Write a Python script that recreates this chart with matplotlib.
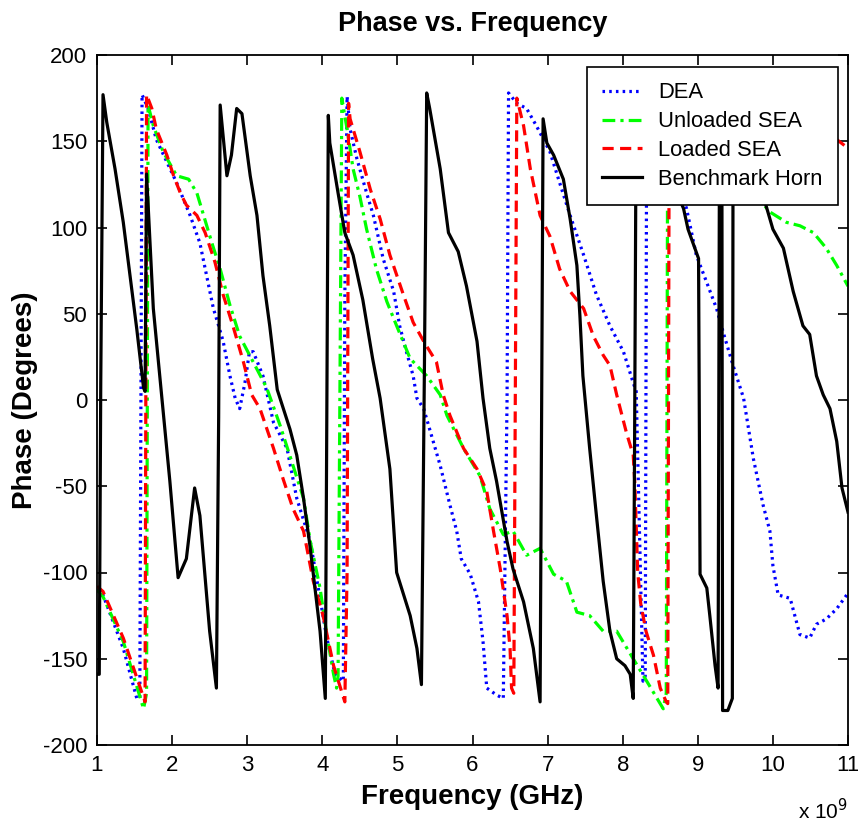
import matplotlib
matplotlib.use("Agg")
import matplotlib.pyplot as plt

FONT = "Liberation Sans"

# ---------------- data (frequency in GHz, phase in degrees) ----------------
dea_f = [1.00, 1.08, 1.35, 1.53, 1.57, 1.60, 1.68, 1.79, 1.93, 2.06, 2.24, 2.37, 2.46, 2.55,
         2.62, 2.68, 2.77, 2.84, 2.90, 2.97, 3.03, 3.08, 3.21, 3.35, 3.53, 3.66, 3.84, 3.97,
         4.06, 4.17, 4.28, 4.30, 4.33, 4.37, 4.46, 4.59, 4.68, 4.81, 4.95, 5.03, 5.12, 5.21,
         5.26, 5.35, 5.43, 5.57, 5.70, 5.79, 5.85, 5.97, 6.08, 6.14, 6.19, 6.32, 6.41, 6.46,
         6.48, 6.59, 6.72, 6.85, 7.03, 7.16, 7.30, 7.48, 7.65, 7.83, 8.01, 8.14, 8.18, 8.27,
         8.30, 8.32, 8.85, 8.98, 9.12, 9.25, 9.34, 9.47, 9.61, 9.74, 9.87, 9.96, 10.00, 10.07,
         10.23, 10.36, 10.49, 10.58, 10.71, 10.85, 11.00]
dea_p = [-110, -113, -144, -173, -173, 177, 169, 151, 138, 126, 107, 91, 72, 53,
         43, 34, 14, 1, -5, 10, 28, 28, 14, -13, -28, -57, -82, -115,
         -138, -159, -163, 60, 176, 157, 140, 120, 107, 82, 63, 43, 28, 14,
         1, -5, -17, -38, -61, -76, -92, -101, -117, -140, -167, -171, -173, 0,
         178, 172, 169, 159, 144, 126, 107, 84, 61, 43, 28, 10, 5, -163,
         -160, 178, 111, 84, 68, 53, 39, 20, 1, -34, -61, -76, -96, -113,
         -115, -136, -138, -130, -127, -121, -112]

unl_f = [1.00, 1.08, 1.35, 1.62, 1.66, 1.68, 1.75, 1.88, 2.06, 2.22, 2.33, 2.42, 2.53, 2.64,
         2.77, 2.90, 3.08, 3.26, 3.44, 3.61, 3.75, 3.84, 3.97, 4.06, 4.15, 4.19, 4.21, 4.26,
         4.33, 4.41, 4.50, 4.59, 4.72, 4.86, 4.99, 5.17, 5.39, 5.57, 5.66, 5.88, 6.10, 6.23,
         6.41, 6.54, 6.72, 6.90, 7.08, 7.25, 7.39, 7.56, 7.74, 7.92, 8.14, 8.32, 8.54, 8.58,
         8.60, 9.96, 10.18, 10.36, 10.54, 10.71, 10.85, 11.00]
unl_p = [-110, -114, -140, -179, -170, 171, 159, 144, 130, 128, 120, 107, 91, 76,
         55, 37, 22, 7, -15, -38, -57, -82, -109, -136, -159, -167, -160, 175,
         157, 134, 118, 99, 76, 57, 43, 24, 14, 3, -9, -28, -44, -63,
         -78, -76, -90, -86, -101, -105, -123, -125, -134, -134, -150, -163, -179, -170,
         178, 109, 103, 101, 97, 88, 78, 66]

lod_f = [1.00, 1.08, 1.35, 1.64, 1.65, 1.66, 1.73, 1.79, 1.93, 2.02, 2.11, 2.19, 2.33, 2.44,
         2.57, 2.68, 2.81, 2.95, 3.06, 3.17, 3.35, 3.48, 3.61, 3.75, 3.88, 4.01, 4.15, 4.30,
         4.33, 4.35, 4.37, 4.50, 4.64, 4.77, 4.90, 5.08, 5.21, 5.35, 5.52, 5.61, 5.70, 5.88,
         6.06, 6.19, 6.28, 6.37, 6.46, 6.50, 6.52, 6.55, 6.59, 6.68, 6.77, 6.90, 7.03, 7.16,
         7.30, 7.48, 7.61, 7.74, 7.83, 7.92, 8.05, 8.14, 8.16, 8.20, 8.24, 8.31, 8.41, 8.50,
         8.58, 8.60, 8.62, 10.85, 11.00]
lod_p = [-108, -111, -138, -175, 0, 177, 169, 157, 142, 130, 120, 113, 107, 97,
         80, 61, 43, 22, 3, -5, -28, -46, -63, -76, -105, -125, -154, -175,
         -100, 172, 163, 144, 122, 105, 84, 61, 45, 34, 22, 3, -9, -28,
         -40, -53, -76, -98, -125, -144, -167, -170, 175, 159, 134, 107, 95, 76,
         63, 53, 37, 26, 20, 3, -19, -32, -47, -100, -118, -134, -148, -167,
         -175, -176, 178, 151, 146]

horn_f = [1.00, 1.03, 1.05, 1.08, 1.13, 1.24, 1.35, 1.44, 1.53, 1.62, 1.64, 1.66, 1.75, 1.84,
          1.97, 2.08, 2.19, 2.30, 2.37, 2.50, 2.59, 2.62, 2.64, 2.73, 2.79, 2.86, 2.93, 3.04,
          3.13, 3.21, 3.30, 3.40, 3.57, 3.66, 3.75, 3.84, 3.97, 4.04, 4.06, 4.08, 4.10, 4.21,
          4.30, 4.41, 4.54, 4.67, 4.77, 4.90, 4.99, 5.17, 5.26, 5.32, 5.36, 5.39, 5.43, 5.57,
          5.68, 5.81, 5.92, 6.06, 6.14, 6.23, 6.32, 6.46, 6.54, 6.68, 6.81, 6.90, 6.92, 6.94,
          6.99, 7.08, 7.21, 7.30, 7.39, 7.43, 7.47, 7.56, 7.65, 7.74, 7.83, 7.92, 8.03, 8.10,
          8.14, 8.16, 8.18, 8.81, 8.87, 9.01, 9.03, 9.12, 9.16, 9.23, 9.27, 9.29, 9.32, 9.33,
          9.40, 9.46, 9.47, 9.92, 10.00, 10.14, 10.27, 10.40, 10.49, 10.58, 10.67, 10.76, 10.85,
          10.92, 11.00]
horn_p = [-159, -159, 10, 177, 161, 134, 103, 72, 41, 7, 5, 131, 53, 12,
          -47, -103, -92, -51, -67, -134, -167, -10, 171, 130, 142, 169, 166, 130,
          107, 72, 43, 6, -17, -32, -57, -86, -134, -173, -10, 165, 149, 120,
          97, 84, 58, 24, 1, -40, -100, -125, -144, -165, 20, 178, 169, 134,
          97, 86, 66, 34, 1, -28, -47, -82, -98, -117, -144, -175, -10, 163,
          149, 142, 128, 105, 78, 49, 14, -28, -67, -105, -134, -150, -154, -159,
          -173, -10, 175, 111, 99, 82, -101, -109, -125, -154, -167, 175, 170, -180,
          -180, -173, 175, 111, 99, 88, 63, 43, 38, 14, 3, -5, -24,
          -51, -65]

labels = ["DEA", "Unloaded SEA", "Loaded SEA", "Benchmark Horn"]
xticks = [1, 2, 3, 4, 5, 6, 7, 8, 9, 10, 11]
yticks = [-200, -150, -100, -50, 0, 50, 100, 150, 200]

# ---------------- figure ----------------
fig = plt.figure(figsize=(8.58, 8.26), dpi=100)
ax = fig.add_axes([97 / 858, (826 - 745) / 826, (848 - 97) / 858, (745 - 55) / 826])

lw = 2.3
ax.plot(dea_f, dea_p, color="#0000ff", lw=lw, linestyle=(0, (0.8, 1.3)), label=labels[0])
ax.plot(unl_f, unl_p, color="#00ff00", lw=lw, linestyle=(0, (4, 1.6, 1, 1.6)), label=labels[1])
ax.plot(lod_f, lod_p, color="#ff0000", lw=lw, linestyle=(0, (3.5, 2.0)), label=labels[2])
ax.plot(horn_f, horn_p, color="black", lw=lw, linestyle="-", label=labels[3])

ax.set_xlim(1, 11)
ax.set_ylim(-200, 200)
ax.set_xticks(xticks)
ax.set_yticks(yticks)
ax.set_xticklabels([str(v) for v in xticks], family=FONT, fontsize=16)
ax.set_yticklabels([str(v) for v in yticks], family=FONT, fontsize=16)
ax.tick_params(direction="in", length=7, width=1.2, top=True, right=True, pad=7)
for s in ax.spines.values():
    s.set_linewidth(1.3)

ax.set_title("Phase vs. Frequency", family=FONT, fontweight="bold", fontsize=19.5, pad=17)
ax.set_xlabel("Frequency (GHz)", family=FONT, fontweight="bold", fontsize=20, labelpad=6)
ax.set_ylabel("Phase (Degrees)", family=FONT, fontweight="bold", fontsize=20, labelpad=3)

fig.text(798 / 858, 1 - 819 / 826, r"x 10$^{9}$", family=FONT, fontsize=15,
         ha="left", va="baseline")

leg = ax.legend(loc="upper right", bbox_to_anchor=((838 - 97) / 751, (745 - 67) / 690),
                borderaxespad=0, prop={"family": FONT, "size": 15.8},
                fancybox=False, framealpha=1, edgecolor="black",
                handlelength=1.8, handletextpad=0.75, labelspacing=0.36,
                borderpad=0.7)
leg.get_frame().set_linewidth(1.2)

fig.savefig("out.png", dpi=100)
